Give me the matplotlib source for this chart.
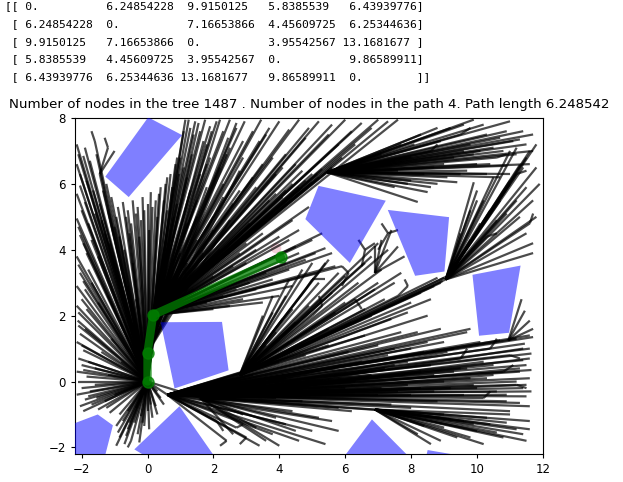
import numpy as np
import matplotlib
matplotlib.use("Agg")
import matplotlib.pyplot as plt
from matplotlib.collections import LineCollection
from matplotlib.patches import Polygon, Circle

# pairwise distance matrix printed above the plot
dist = np.array([
    [0.0, 6.24854228, 9.9150125, 5.8385539, 6.43939776],
    [6.24854228, 0.0, 7.16653866, 4.45609725, 6.25344636],
    [9.9150125, 7.16653866, 0.0, 3.95542567, 13.1681677],
    [5.8385539, 4.45609725, 3.95542567, 0.0, 9.86589911],
    [6.43939776, 6.25344636, 13.1681677, 9.86589911, 0.0],
])
n_tree_nodes = 1487
n_path_nodes = 4
path_length = 6.248542

obstacles = [
    [(-1.28, 6.22), (0.02, 8.02), (1.05, 7.48), (-0.57, 5.6)],
    [(0.4, 1.80), (2.26, 1.81), (2.46, 0.34), (0.82, -0.21)],
    [(-2.3, -1.3), (-1.51, -1.0), (-1.05, -1.33), (-1.3, -2.3), (-2.3, -2.3)],
    [(-0.4, -2.06), (0.97, -0.75), (2.05, -2.3), (0.0, -2.3)],
    [(5.19, 5.94), (7.23, 5.49), (6.14, 3.6), (4.79, 4.93)],
    [(7.29, 5.21), (9.15, 4.99), (9.01, 3.34), (8.12, 3.21)],
    [(9.86, 3.24), (11.32, 3.52), (10.97, 1.48), (10.06, 1.39)],
    [(5.95, -2.3), (6.81, -1.15), (7.95, -2.3)],
    [(8.45, -2.3), (8.5, -2.08), (9.2, -2.2), (9.3, -2.3)],
]

goal = (3.9, 4.05)
path_x = [0.0, 0.0, 0.17, 4.05]
path_y = [0.0, 0.88, 2.02, 3.77]

# tree edges, grouped by the node they fan out from
root = (0.0, 0.0)
root_ends = [
    (-2.1, 1.7), (-2.05, 1.45), (-2.15, 1.2), (-1.95, 0.95), (-2.1, 0.7), (-2.0, 0.5),
    (-2.15, 0.3), (-1.85, 0.15), (-2.1, 0.0), (-2.0, -0.2), (-2.15, -0.4), (-1.9, -0.55),
    (-2.05, -0.75), (-1.7, -0.7), (-1.5, -0.85), (-1.3, -0.6), (-1.75, -0.3), (-1.6, 0.4),
    (-1.4, 0.9), (-1.2, 0.2), (-1.0, -0.4), (-0.8, 0.6), (-1.1, 1.3),
    (-2.12, 1.85), (-1.9, 1.6), (-2.0, 1.1), (-1.8, 0.6), (-1.95, 0.35), (-1.6, -0.1),
    (-1.8, -0.45), (-1.95, -0.9), (-1.55, -0.5), (-1.25, -0.8),
    (-0.95, -1.95), (-0.85, -1.7), (-0.7, -1.9), (-0.6, -1.45), (-0.5, -1.8), (-0.4, -1.25),
    (-0.3, -1.6), (-0.2, -1.05), (-0.1, -1.35), (0.0, -0.9), (0.15, -1.1), (0.25, -0.75),
    (0.4, -0.5), (-0.75, -1.2), (-0.95, -1.35), (-1.15, -0.95), (0.3, -0.3), (0.6, -0.4),
    (-0.9, -1.55), (-0.65, -1.65), (-0.55, -1.25), (-0.25, -1.85), (-0.15, -1.25),
    (0.05, -1.45), (0.1, -0.7), (0.3, -1.0), (0.5, -0.7), (-0.35, -0.8), (-0.6, -0.9),
    (-0.85, -1.0),
    (-2.1, 2.1), (-2.0, 2.5), (-2.15, 2.9), (-2.05, 3.3), (-2.15, 3.8), (-1.95, 4.2),
    (-2.1, 4.7), (-2.0, 5.2), (-2.15, 5.7), (-2.05, 6.3), (-2.1, 6.9), (-1.9, 7.1),
    (-1.75, 6.7), (-1.6, 7.3), (-1.45, 6.3), (-1.35, 5.8), (-1.6, 5.1), (-1.7, 4.3),
    (-1.8, 3.4), (-1.5, 3.8), (-1.2, 5.2), (-1.0, 4.7), (-1.3, 4.5), (-1.9, 2.8),
    (-2.15, 2.3), (-1.85, 2.2), (-1.95, 3.05), (-1.7, 3.0), (-2.1, 3.55), (-1.85, 3.9),
    (-2.05, 4.45), (-1.8, 4.8), (-2.15, 4.95), (-1.9, 5.45), (-2.05, 5.95), (-1.85, 6.1),
    (-2.15, 6.6), (-1.95, 6.85), (-2.15, 7.2), (-1.55, 6.9), (-1.65, 5.8), (-1.45, 5.4),
    (-1.25, 6.0), (-1.1, 5.6), (-1.4, 4.9), (-1.15, 4.2), (-0.95, 5.0), (-0.85, 4.4),
    (-0.65, 5.0), (-0.55, 4.5), (-0.35, 5.1), (-0.25, 4.4), (-0.1, 5.2), (0.15, 5.3),
    (0.35, 5.7), (0.5, 5.5), (0.6, 6.2), (0.75, 5.9), (0.9, 6.8), (0.95, 6.3),
    (-0.45, 3.6), (-0.9, 3.2), (-1.2, 2.6), (-1.5, 2.4), (-0.6, 2.9), (-0.35, 2.5),
    (-0.9, 5.3), (-0.75, 5.45), (-0.6, 5.2), (-0.45, 5.5), (-0.3, 5.3), (-0.15, 5.6),
    (0.0, 5.4), (0.1, 5.75), (0.25, 5.5), (0.4, 5.9), (0.55, 6.0), (0.7, 6.3),
    (0.85, 6.6), (-0.5, 4.8), (-0.2, 4.9), (0.05, 4.6), (0.3, 5.0), (-0.7, 4.0),
    (0.17, 2.02), (0.0, 0.88), (1.6, -0.5),
]

hub_p = (0.0, 0.88)
hub_p_ends = [
    (1.1, 7.6), (1.25, 7.95), (1.4, 7.5), (1.55, 7.85), (1.7, 7.3), (1.95, 7.6),
    (2.2, 7.95), (2.45, 7.4), (2.7, 7.85), (1.1, 6.5), (1.35, 6.9), (1.6, 6.3),
    (1.9, 6.8), (2.2, 6.5), (2.5, 7.1), (2.8, 6.4), (1.3, 5.8), (1.8, 5.9),
    (2.3, 5.6), (0.9, 5.4), (1.5, 5.0), (2.0, 4.6), (2.5, 4.9), (0.7, 4.4),
    (1.2, 3.6), (1.7, 3.9), (0.5, 3.3), (1.0, 2.9), (0.6, 5.2),
]

hub_a = (0.17, 2.02)
hub_a_ends = [
    (1.15, 7.95), (1.3, 7.7), (1.45, 7.9), (1.6, 7.6), (1.75, 7.95), (1.9, 7.75),
    (2.1, 7.9), (2.3, 7.6), (2.5, 7.95), (2.7, 7.7), (2.95, 7.9), (3.2, 7.6),
    (3.45, 7.95), (3.7, 7.7), (4.0, 7.9), (4.3, 7.65), (4.6, 7.95), (4.9, 7.7),
    (5.2, 7.9), (5.6, 7.8), (6.0, 7.95), (6.5, 7.85), (7.0, 7.95),
    (1.0, 6.8), (1.2, 6.2), (1.5, 5.5), (1.8, 6.6), (2.0, 5.0), (2.3, 6.0),
    (2.6, 5.4), (2.9, 6.8), (3.1, 4.8), (3.3, 5.9), (3.6, 5.2), (3.9, 6.3),
    (4.1, 5.6), (4.4, 4.9), (4.7, 5.9), (4.9, 5.3), (3.0, 4.2), (3.5, 4.5),
    (4.0, 4.4), (4.6, 4.6), (2.2, 4.0), (2.6, 3.5), (1.5, 4.3), (1.0, 3.9),
    (0.8, 5.0), (1.2, 4.8), (1.8, 7.2), (2.4, 6.9), (3.4, 7.3), (4.2, 6.9),
    (4.6, 5.9), (4.8, 6.1), (5.0, 6.05), (5.15, 6.3), (4.7, 6.4), (4.4, 6.0),
    (4.2, 5.8), (3.9, 5.7), (3.7, 5.5), (4.5, 6.6), (4.1, 6.5), (3.8, 6.8),
    (3.5, 6.6), (3.2, 6.2), (2.8, 5.8), (2.9, 7.3), (3.6, 7.5), (4.8, 7.4),
    (5.5, 7.5), (6.2, 7.6), (6.8, 7.7), (7.3, 7.9), (7.6, 7.95), (5.8, 7.2),
    (5.9, 6.8), (6.3, 7.2),
    (4.5, 4.1), (4.8, 3.7), (5.0, 4.3), (4.3, 3.4), (3.8, 3.1), (3.3, 2.8),
    (2.9, 2.5), (2.5, 2.3), (3.5, 2.4), (4.4, 2.9), (5.2, 3.3), (5.6, 3.9),
    (2.0, 2.2), (3.0, 3.6), (5.3, 4.5), (4.0, 2.6), (4.2, 3.6), (4.6, 3.9),
    (5.1, 3.9), (5.4, 4.05), (3.6, 3.3), (3.1, 3.0), (2.7, 2.8), (2.3, 2.6),
    (1.8, 2.4), (3.9, 3.8), (4.3, 4.3), (2.8, 3.9), (3.3, 4.0), (2.0, 3.2),
    (1.4, 2.8), (1.2, 3.3), (5.7, 3.5), (5.9, 3.5),
    (5.45, 6.35), (5.3, 6.45), (5.6, 6.5), (5.2, 6.2), (5.0, 6.3),
]

hub_n = (5.45, 6.35)
hub_n_ends = [
    (8.2, 5.45), (8.5, 5.75), (8.8, 6.0), (9.1, 6.2), (9.4, 6.05), (9.7, 6.4),
    (10.0, 6.6), (10.3, 6.3), (10.6, 6.8), (10.9, 6.55), (11.2, 6.9), (11.5, 7.2),
    (11.7, 7.5), (11.3, 7.35), (10.9, 7.6), (10.5, 7.1), (10.2, 7.8), (9.9, 7.95),
    (9.5, 7.5), (9.2, 7.7), (8.9, 7.3), (8.6, 7.0), (8.3, 7.5), (8.0, 6.8),
    (7.7, 7.2), (7.4, 6.6), (7.1, 6.9), (9.8, 7.2), (10.7, 7.4), (11.0, 7.9),
    (11.6, 6.6), (8.0, 6.1), (7.5, 5.9), (9.0, 6.6), (10.1, 7.0),
    (8.4, 6.3), (8.7, 6.5), (9.3, 6.8), (9.6, 7.0), (9.9, 6.9), (10.4, 6.6),
    (10.8, 7.0), (11.1, 7.3), (11.4, 7.6), (11.7, 7.0), (10.3, 7.5), (9.6, 7.8),
    (8.8, 7.7), (8.1, 7.2), (7.6, 6.4), (7.9, 6.0), (9.5, 6.3), (10.7, 6.2),
    (11.0, 6.3), (8.6, 5.9),
]

hub_b = (0.6, -0.4)
hub_b_ends = [
    (11.7, 1.35), (11.2, 1.3), (11.6, 1.0), (11.0, 0.8),
    (11.5, 0.5), (10.8, 0.3), (11.6, 0.1), (11.2, -0.1), (10.6, -0.3), (11.5, -0.45),
    (10.9, -0.6), (10.2, -0.5), (9.8, 0.1), (9.5, 0.7), (9.0, 1.2), (8.6, 0.5),
    (8.2, 1.5), (7.8, 0.2), (7.5, 1.0), (7.0, -0.4), (6.5, 0.6), (6.0, -0.2),
    (5.5, 1.1), (5.0, 0.3), (4.5, -0.1), (4.0, 0.6), (3.6, -0.3), (3.2, 0.2),
    (9.8, 1.6), (10.4, 1.0), (9.2, -0.2), (8.8, -0.6), (8.0, -0.4), (6.9, -0.85),
    (11.3, 0.3), (10.7, 1.25), (9.6, -0.4), (11.0, -0.9), (8.4, 0.9), (7.2, 0.4),
    (11.6, 1.4), (11.45, 1.15), (11.65, 0.85), (11.4, 0.65), (11.65, 0.35),
    (11.4, -0.2), (11.65, -0.3), (11.3, -0.65), (11.6, -0.75), (11.2, 0.0), (10.5, 0.5),
    (10.3, 0.1), (10.0, -0.2), (9.7, 0.4), (9.3, 0.3), (9.0, 0.0), (8.7, 0.2),
    (8.3, -0.2), (7.9, 0.6), (7.6, -0.3), (7.3, 0.8), (6.8, 0.2), (6.3, -0.4),
    (6.1, 0.9), (5.7, 0.4), (5.3, -0.3), (4.8, 0.8), (4.2, 0.1), (3.9, -0.5),
    (10.1, 1.2), (9.7, 1.5), (9.3, 1.0), (8.9, 1.6), (8.5, 1.2), (8.0, 1.0),
    (7.7, 1.5), (7.0, 1.1), (6.6, 1.4),
    (3.4, -1.95), (3.0, -1.7), (2.7, -1.4), (2.4, -1.8), (2.1, -1.2), (3.8, -1.6),
    (4.2, -1.3), (4.6, -1.8), (5.0, -1.5), (5.4, -1.9), (5.6, -1.2), (4.4, -0.9),
    (5.8, -0.8), (2.8, 0.2), (2.3, 0.05),
]

hub_b2 = (1.6, -0.5)
hub_b2_ends = [
    (11.5, -0.1), (11.3, 0.4), (11.6, 0.7), (11.4, 1.0), (10.9, -0.4), (10.5, 0.2),
    (10.2, 0.6), (9.9, -0.1), (9.5, 0.4), (9.1, 0.9), (8.7, -0.3), (8.3, 0.3),
    (7.9, -0.1), (7.5, 0.5), (7.1, -0.2), (6.7, 0.3), (6.3, 0.0), (5.9, 0.5),
    (5.5, -0.4), (5.1, 0.1), (4.7, -0.6), (4.3, -0.2), (3.9, -1.1), (4.5, -1.5),
    (5.2, -1.1), (5.8, -1.5), (6.2, -0.9), (3.3, -1.4), (2.9, -1.0), (8.0, -0.8),
    (9.0, -1.0), (7.4, -0.7), (3.6, -1.8), (4.0, -1.95), (2.6, -1.6),
]

hub_c = (2.8, 0.2)
hub_c_ends = [
    (9.05, 3.1), (8.9, 3.0), (9.1, 3.2), (8.8, 3.15), (8.95, 3.05), (9.0, 3.15),
    (4.8, 2.8), (5.2, 3.0), (5.6, 2.7), (6.0, 3.2), (6.3, 2.5), (6.6, 3.6),
    (7.0, 3.0), (7.3, 4.0), (7.6, 2.6), (7.7, 3.3), (4.2, 2.6), (3.8, 2.1),
    (4.5, 1.8), (5.0, 2.0), (5.5, 1.6), (6.2, 1.8), (6.8, 2.0), (7.4, 1.9),
    (8.0, 2.4), (8.5, 2.0), (3.9, 1.5), (4.3, 1.2), (5.5, 3.7), (5.4, 3.6),
    (3.8, 2.6), (3.5, 2.0), (7.0, 4.2), (8.7, 2.9), (8.3, 2.7), (8.6, 2.5),
    (7.9, 2.1), (7.2, 2.5), (6.9, 2.8), (6.6, 2.2), (6.0, 2.4), (5.7, 2.1),
    (5.3, 2.5), (4.9, 2.3), (4.4, 2.2), (4.1, 1.9), (3.6, 1.1), (4.3, 3.1),
    (4.7, 3.4), (5.0, 3.6), (5.8, 3.3), (6.4, 3.0), (7.1, 3.4), (7.5, 3.0),
    (6.8, 3.8),
]

hub_g = (6.9, 3.3)
hub_g_ends = [(7.4, 4.6), (7.1, 4.3), (7.6, 4.1), (7.8, 3.8), (6.9, 4.1)]

hub_d = (9.05, 3.1)
hub_d_ends = [
    (11.8, 7.2), (11.5, 6.8), (11.2, 6.3), (10.8, 5.8), (10.5, 6.2), (9.9, 6.05),
    (10.2, 5.5), (11.7, 5.5), (11.6, 4.8), (11.3, 5.0), (10.6, 4.9), (10.3, 4.4),
    (9.8, 5.2), (9.5, 4.5), (11.9, 6.0), (11.3, 6.58), (11.0, 7.0), (10.0, 5.8),
    (11.7, 4.2), (11.6, 7.0), (11.4, 6.5), (11.0, 6.0), (10.7, 5.5), (10.4, 5.2),
    (10.1, 4.8), (9.8, 4.3), (11.8, 6.5), (11.5, 5.9), (11.2, 5.5), (10.9, 5.1),
    (11.5, 4.5), (11.8, 5.0), (10.0, 5.5), (11.2, 7.1), (11.7, 3.9),
]

hub_f = (10.95, 1.25)
hub_f_ends = [(11.45, 2.15), (11.6, 1.85), (11.7, 1.6), (11.35, 2.5)]

hub_e = (6.9, -0.85)
hub_e_ends = [
    (9.6, -1.2), (10.0, -1.5), (10.4, -1.3), (10.8, -1.7), (11.2, -1.45), (11.5, -1.8),
    (10.2, -1.9), (9.4, -1.7), (9.0, -1.4), (8.6, -1.9), (11.6, -1.2), (11.0, -1.0),
    (8.2, -1.6), (9.8, -1.7), (10.6, -1.55), (11.4, -1.6), (9.2, -1.15), (10.3, -1.1),
    (11.6, -1.45), (8.9, -1.8), (8.4, -1.35), (9.9, -1.3), (10.9, -1.25),
]

# short side branches near the leaves
twigs = [
    (7.0, 4.0, 7.3, 4.5), (7.3, 4.5, 7.1, 4.8), (7.3, 4.5, 7.6, 4.6), (6.5, 3.5, 6.6, 4.0),
    (6.6, 4.0, 6.4, 4.3), (6.6, 4.0, 6.9, 4.2), (5.9, 2.9, 6.1, 3.3), (6.1, 3.3, 5.9, 3.5),
    (7.6, 2.6, 7.9, 2.9), (7.9, 2.9, 7.8, 3.1), (5.0, 2.0, 5.3, 2.3), (5.3, 2.3, 5.2, 2.6),
    (4.8, 2.8, 5.0, 3.1), (5.0, 3.1, 5.4, 3.1), (6.3, 2.5, 6.5, 2.2),
    (-1.45, 6.3, -1.2, 7.1), (-1.45, 6.3, -1.0, 7.0), (-1.2, 7.1, -1.3, 7.4), (-1.6, 7.3, -1.7, 7.6),
    (10.8, 0.3, 11.1, 0.5), (11.0, 0.8, 11.3, 0.7), (10.2, -0.5, 10.4, -0.3), (9.5, 0.7, 9.7, 1.0),
    (11.2, -0.1, 11.5, -0.2), (10.4, 1.0, 10.6, 1.3),
    (2.1, -1.2, 2.3, -1.5), (2.4, -1.8, 2.2, -1.95), (2.7, -1.4, 2.9, -1.3), (3.0, -1.7, 2.8, -1.9),
    (-0.5, -1.8, -0.6, -2.0),
    (10.8, 5.8, 11.0, 6.1), (11.6, 4.8, 11.7, 5.1), (10.3, 4.4, 10.6, 4.5), (11.2, 6.3, 11.5, 6.4),
    (9.5, 7.5, 9.8, 7.7), (10.6, 6.8, 10.9, 6.9), (8.6, 7.0, 8.8, 7.2),
]

fans = [
    (root, root_ends), (hub_p, hub_p_ends), (hub_a, hub_a_ends), (hub_n, hub_n_ends),
    (hub_b, hub_b_ends), (hub_b2, hub_b2_ends), (hub_c, hub_c_ends), (hub_g, hub_g_ends),
    (hub_d, hub_d_ends), (hub_f, hub_f_ends), (hub_e, hub_e_ends),
]

fig = plt.figure(figsize=(6.23, 4.82), dpi=100)
ax = fig.add_axes([75 / 623, 28 / 482, 468 / 623, 336 / 482])

segments = [[hub, end] for hub, ends in fans for end in ends]
segments += [[(x0, y0), (x1, y1)] for x0, y0, x1, y1 in twigs]

ax.add_patch(Circle(goal, 0.16, facecolor="#f2d0d8", zorder=1))
ax.add_collection(LineCollection(segments, colors="k", linewidths=1.6, alpha=0.7, zorder=2))
for poly in obstacles:
    ax.add_patch(Polygon(poly, closed=True, facecolor="blue", edgecolor="none", alpha=0.5, zorder=3))
ax.plot(path_x, path_y, color="green", linewidth=6, marker="o", markersize=8,
        alpha=0.75, solid_capstyle="round", zorder=4)

ax.set_xlim(-2.2, 12)
ax.set_ylim(-2.2, 8)
ax.set_xticks([-2, 0, 2, 4, 6, 8, 10, 12])
ax.set_yticks([-2, 0, 2, 4, 6, 8])
ax.tick_params(labelsize=8.5, length=3)
ax.set_title(
    f"Number of nodes in the tree {n_tree_nodes} . Number of nodes in the path "
    f"{n_path_nodes}. Path length {path_length:.6f}",
    fontsize=9.6, pad=7,
)

fig.text(5 / 623, 1 - 1 / 482, np.array2string(dist), family="DejaVu Sans Mono",
         fontsize=8.1, va="top", ha="left", linespacing=1.98)

fig.savefig("out.png", dpi=100, facecolor="white")
